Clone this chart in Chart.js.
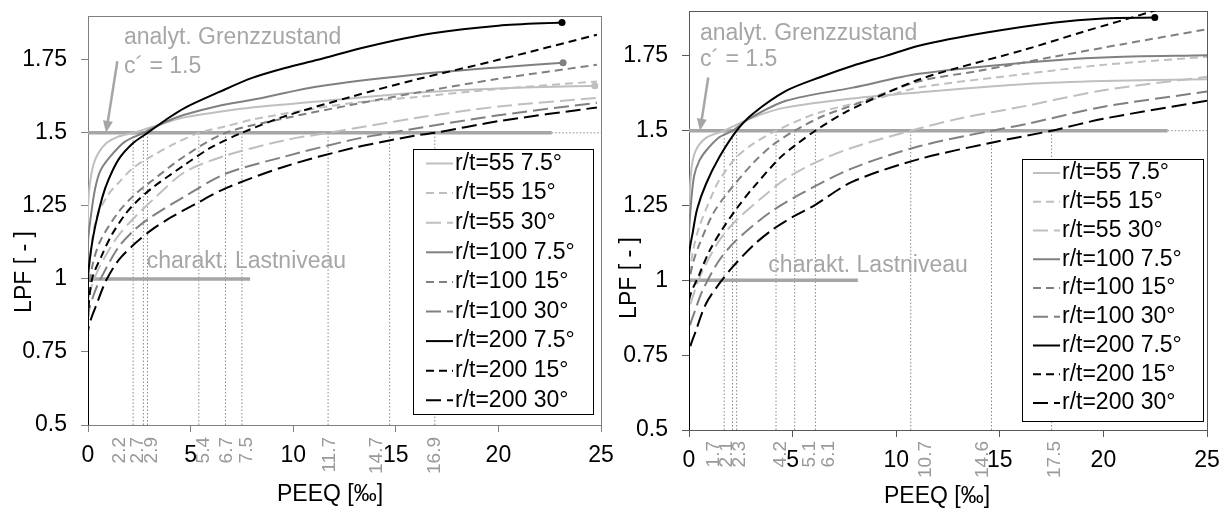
<!DOCTYPE html>
<html>
<head>
<meta charset="utf-8">
<script src="https://cdn.jsdelivr.net/npm/chart.js@4.4.1/dist/chart.umd.min.js"></script>
<style>
  body { margin: 0; background: #fff; }
  #wrap { position: relative; width: 1228px; height: 511px; }
  canvas { position: absolute; top: 0; }
</style>
</head>
<body>
<div id="wrap">
  <canvas id="leftChart" width="614" height="511" style="left:0"></canvas>
  <canvas id="rightChart" width="614" height="511" style="left:614px"></canvas>
</div>
<script>
const xTicks = [0, 5, 10, 15, 20, 25];
const yTicks = [0.5, 0.75, 1, 1.25, 1.5, 1.75];
const seriesNames = ['r/t=55 7.5°', 'r/t=55 15°', 'r/t=55 30°',
                     'r/t=100 7.5°', 'r/t=100 15°', 'r/t=100 30°',
                     'r/t=200 7.5°', 'r/t=200 15°', 'r/t=200 30°'];
const limitLevel = 1.5;
const charLevel = 1.0;

// left panel, [PEEQ, LPF]
const left55_75 = [[0,0.5],[0,1.24],[0.1,1.33],[0.26,1.39],[0.5,1.43],[0.9,1.465],[1.5,1.488],[2.2,1.5],[3.2,1.522],[4.7,1.553],[6.4,1.572],[8,1.587],[11.2,1.607],[15.9,1.637],[20,1.652],[24.7,1.661]];
const left55_15 = [[0,0.5],[0,0.96],[0.15,1.1],[0.42,1.21],[1,1.29],[1.5,1.33],[2.2,1.38],[3.1,1.42],[4.2,1.462],[5.4,1.5],[6.7,1.522],[8,1.545],[9.6,1.566],[12.85,1.602],[15.9,1.622],[20,1.65],[24.8,1.676]];
const left55_30 = [[0,0.5],[0,0.92],[0.3,1.0],[0.83,1.076],[1.5,1.15],[2.3,1.213],[3.3,1.28],[4.7,1.365],[6.7,1.422],[9.6,1.475],[11.7,1.5],[15.9,1.55],[20,1.59],[24.8,1.62]];
const left100_75 = [[0,0.5],[0,1.12],[0.15,1.22],[0.35,1.31],[0.6,1.37],[1.1,1.42],[1.8,1.47],[2.7,1.5],[3.8,1.538],[4.7,1.562],[6.4,1.593],[8,1.613],[11.2,1.659],[15.9,1.699],[20,1.724],[23.15,1.74]];
const left100_15 = [[0,0.5],[0,0.9],[0.2,1.04],[0.6,1.13],[1.5,1.23],[2.3,1.29],[3.1,1.335],[4.7,1.42],[6.7,1.5],[9.6,1.55],[12.85,1.596],[15.9,1.636],[20,1.685],[24.8,1.733]];
const left100_30 = [[0,0.5],[0,0.87],[0.3,0.95],[0.67,1.008],[1.5,1.11],[2.3,1.17],[3.1,1.213],[4.7,1.282],[6.7,1.36],[9.6,1.419],[12.85,1.476],[14.7,1.5],[20,1.56],[24.8,1.603]];
const left200_75 = [[0,0.5],[0,1.0],[0.15,1.1],[0.35,1.18],[0.7,1.28],[1.0,1.34],[1.5,1.41],[2.2,1.465],[2.9,1.5],[3.8,1.545],[4.7,1.585],[6.4,1.64],[8,1.688],[9.6,1.722],[11.2,1.75],[13.6,1.795],[16.8,1.841],[20,1.867],[23.1,1.878]];
const left200_15 = [[0,0.5],[0,0.86],[0.2,1.0],[0.67,1.08],[1.15,1.15],[1.8,1.22],[2.3,1.26],[3.1,1.31],[4.7,1.39],[6.0,1.45],[7.5,1.5],[9.6,1.557],[12.85,1.624],[15.9,1.681],[20,1.75],[24.8,1.836]];
const left200_30 = [[0,0.5],[0,0.82],[0.5,0.928],[0.9,0.997],[1.5,1.065],[2.3,1.122],[3.1,1.168],[4.1,1.213],[5.2,1.255],[6.7,1.31],[9.6,1.385],[12.85,1.447],[15.9,1.49],[16.9,1.5],[20,1.54],[24.8,1.587]];
const leftCrossings = [2.2, 2.7, 2.9, 5.4, 6.7, 7.5, 11.7, 14.7, 16.9];
const leftLimitEnd = 22.6;
const leftCharEnd = 7.9;

// right panel
const right55_75 = [[0,0.5],[0,1.2],[0.1,1.36],[0.3,1.43],[0.82,1.476],[1.7,1.5],[3.1,1.545],[4.7,1.578],[7.9,1.608],[11.1,1.628],[16.3,1.656],[20,1.666],[25,1.672]];
const right55_15 = [[0,0.5],[0,1.0],[0.2,1.1],[0.5,1.18],[1.14,1.29],[1.46,1.335],[2.27,1.41],[3.07,1.455],[4.2,1.5],[6.29,1.561],[9.5,1.615],[11.14,1.645],[16.26,1.69],[20,1.72],[25,1.747]];
const right55_30 = [[0,0.5],[0,0.89],[0.3,0.97],[0.66,1.033],[1.46,1.133],[2.27,1.2],[3.55,1.278],[4.68,1.34],[6.3,1.4],[7.9,1.444],[10.7,1.5],[13,1.54],[16.26,1.583],[20,1.635],[25,1.68]];
const right100_75 = [[0,0.5],[0,1.15],[0.1,1.26],[0.25,1.35],[0.5,1.4],[0.82,1.433],[1.46,1.478],[2.1,1.5],[2.9,1.54],[4.68,1.6],[7.9,1.644],[11.1,1.69],[16.26,1.728],[20,1.745],[25,1.752]];
const right100_15 = [[0,0.5],[0,0.98],[0.2,1.06],[0.5,1.12],[1.14,1.22],[1.78,1.285],[3.07,1.39],[4.0,1.45],[5.1,1.5],[6.5,1.55],[7.9,1.585],[11.1,1.665],[14,1.7],[17.6,1.747],[21,1.79],[25,1.839]];
const right100_30 = [[0,0.5],[0,0.83],[0.3,0.9],[0.66,0.967],[1.46,1.067],[2.27,1.133],[3.87,1.225],[5.48,1.292],[7.9,1.375],[11.1,1.448],[14.6,1.5],[16.26,1.522],[20,1.58],[25,1.631]];
const right200_75 = [[0,0.5],[0,1.08],[0.18,1.16],[0.4,1.24],[0.82,1.322],[1.46,1.411],[2.3,1.5],[3.07,1.556],[4.68,1.633],[6.29,1.678],[7.9,1.717],[9.5,1.75],[11.14,1.785],[14.36,1.828],[17.57,1.861],[20,1.875],[22.48,1.878]];
const right200_15 = [[0,0.5],[0,0.93],[0.5,1.02],[1.0,1.1],[1.6,1.17],[2.3,1.24],[3.1,1.31],[4.4,1.41],[5.2,1.455],[6.1,1.5],[7.5,1.56],[9.5,1.625],[11.14,1.672],[12.7,1.705],[16.26,1.772],[19,1.83],[22.4,1.9],[23.5,1.93]];
const right200_30 = [[0,0.5],[0,0.756],[0.34,0.833],[0.82,0.922],[1.46,0.989],[2.1,1.044],[3.07,1.115],[4.04,1.17],[5.16,1.218],[6.04,1.25],[7.9,1.33],[11.1,1.405],[14.6,1.46],[17.5,1.5],[20,1.54],[25,1.6]];
const rightCrossings = [1.7, 2.1, 2.3, 4.2, 5.1, 6.1, 10.7, 14.6, 17.5];
const rightLimitEnd = 23.1;
const rightCharEnd = 8.15;

// styles
const light = '#bfbfbf', mid = '#808080', dark = '#000000';
const seriesColor = [light, light, light, mid, mid, mid, dark, dark, dark];
const seriesDash = [[], [8, 5], [15, 6], [], [8, 5], [15, 6], [], [8, 5], [15, 6]];
const seriesOrder = [3, 3, 3, 2, 2, 2, 1, 1, 1];
const FONT = "'Liberation Sans', Arial, sans-serif";
const annoGray = '#a6a6a6';

const pts = arr => arr.map(p => ({ x: p[0], y: p[1] }));

const extrasPlugin = {
    id: 'extras',
    beforeDatasetsDraw(chart, args, o) {
        const a = chart.chartArea, ctx = chart.ctx;
        ctx.save();
        ctx.strokeStyle = o.frame;
        ctx.lineWidth = 1;
        ctx.strokeRect(a.left + 0.5, a.top + 0.5, a.right - a.left, a.bottom - a.top);
        ctx.restore();
    },
    afterDatasetsDraw(chart, args, o) {
        const ctx = chart.ctx, xs = chart.scales.x, ys = chart.scales.y;
        ctx.save();

        // crossing value labels, rotated
        ctx.font = '19px ' + FONT;
        ctx.fillStyle = '#9a9a9a';
        ctx.textAlign = 'right';
        ctx.textBaseline = 'middle';
        o.crossings.forEach((v, i) => {
            ctx.save();
            ctx.translate(xs.getPixelForValue(v) + o.nudges[i], o.labelTop);
            ctx.rotate(-Math.PI / 2);
            ctx.fillText(v.toFixed(1), 0, 0);
            ctx.restore();
        });

        // annotation texts
        ctx.font = '23px ' + FONT;
        ctx.fillStyle = annoGray;
        ctx.textAlign = 'left';
        o.texts.forEach(t => {
            ctx.fillText(t.text, xs.getPixelForValue(t.x), ys.getPixelForValue(t.y));
        });

        // arrow
        const ar = o.arrow;
        const x1 = xs.getPixelForValue(ar.from[0]), y1 = ys.getPixelForValue(ar.from[1]);
        const x2 = xs.getPixelForValue(ar.to[0]), y2 = ys.getPixelForValue(ar.to[1]);
        const ang = Math.atan2(y2 - y1, x2 - x1);
        ctx.strokeStyle = annoGray;
        ctx.fillStyle = annoGray;
        ctx.lineWidth = 2.5;
        ctx.beginPath();
        ctx.moveTo(x1, y1);
        ctx.lineTo(x2 - 10 * Math.cos(ang), y2 - 10 * Math.sin(ang));
        ctx.stroke();
        ctx.beginPath();
        ctx.moveTo(x2, y2);
        ctx.lineTo(x2 - 12 * Math.cos(ang) + 5 * Math.sin(ang), y2 - 12 * Math.sin(ang) - 5 * Math.cos(ang));
        ctx.lineTo(x2 - 12 * Math.cos(ang) - 5 * Math.sin(ang), y2 - 12 * Math.sin(ang) + 5 * Math.cos(ang));
        ctx.closePath();
        ctx.fill();

        // legend
        const lg = o.legend;
        ctx.fillStyle = '#fff';
        ctx.fillRect(lg.x, lg.y, lg.w, lg.h);
        ctx.strokeStyle = '#000';
        ctx.lineWidth = 1;
        ctx.strokeRect(lg.x + 0.5, lg.y + 0.5, lg.w, lg.h);
        ctx.font = '23px ' + FONT;
        ctx.textBaseline = 'middle';
        seriesNames.forEach((name, i) => {
            const yy = lg.y + lg.first + i * lg.row;
            ctx.strokeStyle = seriesColor[i];
            ctx.lineWidth = 2;
            ctx.setLineDash(seriesDash[i]);
            ctx.beginPath();
            ctx.moveTo(lg.sx, yy);
            ctx.lineTo(lg.sx + lg.sw, yy);
            ctx.stroke();
            ctx.setLineDash([]);
            ctx.fillStyle = '#000';
            ctx.fillText(name, lg.tx, yy);
        });

        // axis titles
        ctx.fillStyle = '#000';
        ctx.textAlign = 'center';
        ctx.fillText('PEEQ [‰]', o.xTitle[0], o.xTitle[1]);
        ctx.save();
        ctx.translate(o.yTitle[0], o.yTitle[1]);
        ctx.rotate(-Math.PI / 2);
        ctx.fillText('LPF [ - ]', 0, 0);
        ctx.restore();

        ctx.restore();
    }
};

function makeChart(id, series, crossings, limitEnd, charEnd, cfg) {
    const datasets = [];
    series.forEach((s, i) => {
        datasets.push({
            label: seriesNames[i],
            data: pts(s),
            borderColor: seriesColor[i],
            backgroundColor: seriesColor[i],
            borderDash: seriesDash[i],
            borderWidth: 2,
            tension: 0.3,
            showLine: true,
            order: seriesOrder[i],
            pointRadius: c => (cfg.endDots.includes(i) && c.dataIndex === s.length - 1) ? 3.5 : 0,
            pointBorderWidth: 0
        });
    });
    crossings.forEach(v => {
        datasets.push({
            data: [{ x: v, y: 0.5 }, { x: v, y: limitLevel }],
            borderColor: '#8a8a8a', borderWidth: 1, borderDash: [1.5, 2],
            showLine: true, pointRadius: 0, order: 9
        });
    });
    datasets.push({
        data: [{ x: 0, y: limitLevel }, { x: limitEnd, y: limitLevel }],
        borderColor: annoGray, borderWidth: 3.5, showLine: true, pointRadius: 0, order: 8
    });
    datasets.push({
        data: [{ x: limitEnd, y: limitLevel }, { x: 25, y: limitLevel }],
        borderColor: '#8a8a8a', borderWidth: 1, borderDash: [1.5, 2], showLine: true, pointRadius: 0, order: 8
    });
    datasets.push({
        data: [{ x: 0, y: charLevel }, { x: charEnd, y: charLevel }],
        borderColor: annoGray, borderWidth: 3.5, showLine: true, pointRadius: 0, order: 8
    });

    const axisStyle = {
        grid: { drawOnChartArea: false, tickLength: 7, color: cfg.frame },
        border: { color: cfg.frame }
    };

    new Chart(document.getElementById(id), {
        type: 'scatter',
        data: { datasets: datasets },
        options: {
            responsive: false,
            animation: false,
            devicePixelRatio: 1,
            layout: { padding: { left: 0, top: cfg.padTop, right: cfg.padRight, bottom: 0 } },
            plugins: {
                legend: { display: false },
                tooltip: { enabled: false },
                extras: cfg
            },
            scales: {
                x: {
                    type: 'linear', min: 0, max: 25,
                    ...axisStyle,
                    afterBuildTicks: s => { s.ticks = xTicks.map(v => ({ value: v })); },
                    afterFit: s => { s.height = cfg.xHeight; s.paddingLeft = 0; s.paddingRight = 0; },
                    ticks: { color: '#000', font: { size: 23, family: FONT }, padding: 10, maxRotation: 0, callback: v => String(v) }
                },
                y: {
                    type: 'linear', min: 0.5, max: 1.9,
                    ...axisStyle,
                    afterBuildTicks: s => { s.ticks = yTicks.map(v => ({ value: v })); },
                    afterFit: s => { s.width = cfg.yWidth; s.paddingTop = 0; s.paddingBottom = 0; },
                    ticks: { color: '#000', font: { size: 23, family: FONT }, padding: 14, callback: v => String(v) }
                }
            }
        },
        plugins: [extrasPlugin]
    });
}

makeChart('leftChart',
    [left55_75, left55_15, left55_30, left100_75, left100_15, left100_30, left200_75, left200_15, left200_30],
    leftCrossings, leftLimitEnd, leftCharEnd, {
        frame: '#808080', padTop: 16, padRight: 13, xHeight: 86, yWidth: 88,
        endDots: [0, 3, 6],
        crossings: leftCrossings,
        nudges: [-13, -6, 4, 5, 1, 5, 2, -13, 0],
        labelTop: 437,
        texts: [
            { text: 'analyt. Grenzzustand', x: 1.75, y: 1.825 },
            { text: 'c´ = 1.5', x: 1.75, y: 1.726 },
            { text: 'charakt. Lastniveau', x: 2.86, y: 1.058 }
        ],
        arrow: { from: [1.43, 1.745], to: [0.88, 1.5] },
        legend: { x: 413, y: 149, w: 180, h: 265, first: 14.5, row: 29.6, sx: 426, sw: 27, tx: 455 },
        xTitle: [330, 495],
        yTitle: [25, 272]
    });

makeChart('rightChart',
    [right55_75, right55_15, right55_30, right100_75, right100_15, right100_30, right200_75, right200_15, right200_30],
    rightCrossings, rightLimitEnd, rightCharEnd, {
        frame: '#595959', padTop: 11, padRight: 21, xHeight: 81, yWidth: 75,
        endDots: [6],
        crossings: rightCrossings,
        nudges: [-10, -6, 3, 5, 15, 13, 15, -9, 3],
        labelTop: 441,
        texts: [
            { text: 'analyt. Grenzzustand', x: 0.53, y: 1.825 },
            { text: 'c´ = 1.5', x: 0.53, y: 1.737 },
            { text: 'charakt. Lastniveau', x: 3.83, y: 1.05 }
        ],
        arrow: { from: [0.93, 1.678], to: [0.53, 1.5] },
        legend: { x: 408, y: 159, w: 181, h: 262, first: 14, row: 28.75, sx: 419, sw: 27, tx: 448 },
        xTitle: [323, 497],
        yTitle: [16, 278]
    });
</script>
</body>
</html>
